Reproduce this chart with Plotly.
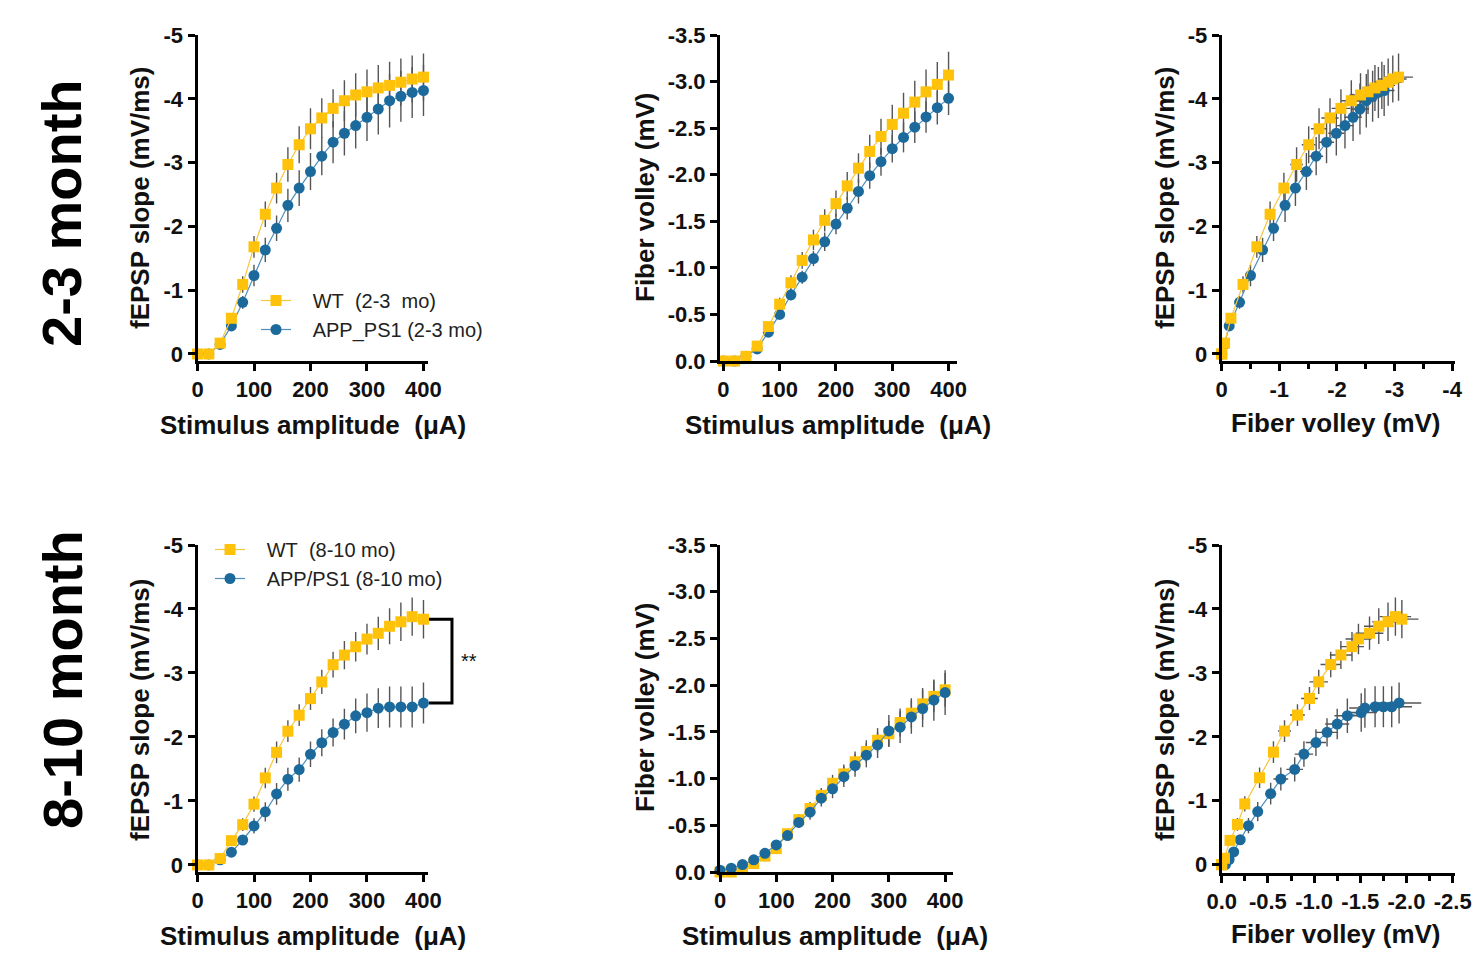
import plotly.graph_objects as go

W, H = 1482, 953

# ---------------- data ----------------
stim = [0, 20, 40, 60, 80, 100, 120, 140, 160, 180, 200, 220, 240, 260, 280, 300, 320, 340, 360, 380, 400]

# 2-3 month
wt23_slope = [0, 0, -0.17, -0.56, -1.09, -1.68, -2.19, -2.60, -2.97, -3.28, -3.53, -3.70, -3.85, -3.97, -4.06, -4.11, -4.17, -4.21, -4.26, -4.31, -4.34]
wt23_slope_err = [0, 0, 0.03, 0.08, 0.13, 0.17, 0.20, 0.24, 0.27, 0.29, 0.32, 0.31, 0.30, 0.32, 0.34, 0.35, 0.36, 0.37, 0.37, 0.37, 0.37]
app23_slope = [0, 0, -0.15, -0.44, -0.81, -1.23, -1.63, -1.97, -2.33, -2.60, -2.86, -3.10, -3.32, -3.46, -3.58, -3.71, -3.84, -3.97, -4.04, -4.10, -4.13]
app23_slope_err = [0, 0, 0.03, 0.07, 0.10, 0.17, 0.19, 0.20, 0.26, 0.28, 0.29, 0.30, 0.33, 0.35, 0.36, 0.37, 0.40, 0.42, 0.40, 0.40, 0.40]
wt23_fv = [0, 0, -0.05, -0.16, -0.37, -0.61, -0.84, -1.08, -1.30, -1.51, -1.69, -1.88, -2.07, -2.25, -2.41, -2.54, -2.66, -2.78, -2.89, -2.97, -3.07]
wt23_fv_err = [0, 0, 0.01, 0.03, 0.05, 0.07, 0.08, 0.09, 0.11, 0.12, 0.14, 0.15, 0.16, 0.18, 0.19, 0.21, 0.22, 0.23, 0.24, 0.24, 0.25]
app23_fv = [0, 0, -0.05, -0.13, -0.31, -0.50, -0.71, -0.90, -1.10, -1.28, -1.47, -1.64, -1.82, -1.99, -2.14, -2.28, -2.40, -2.51, -2.62, -2.72, -2.82]
app23_fv_err = [0, 0, 0.01, 0.02, 0.04, 0.05, 0.06, 0.07, 0.08, 0.10, 0.11, 0.12, 0.13, 0.14, 0.15, 0.15, 0.16, 0.17, 0.17, 0.18, 0.18]

# 8-10 month
wt810_slope = [0, 0, -0.10, -0.38, -0.63, -0.95, -1.36, -1.76, -2.09, -2.34, -2.60, -2.86, -3.13, -3.28, -3.41, -3.53, -3.62, -3.73, -3.80, -3.88, -3.84]
wt810_slope_err = [0, 0, 0.03, 0.06, 0.10, 0.12, 0.16, 0.17, 0.17, 0.17, 0.18, 0.19, 0.20, 0.22, 0.23, 0.24, 0.26, 0.28, 0.30, 0.30, 0.30]
app810_slope = [0, 0, -0.08, -0.20, -0.39, -0.61, -0.83, -1.11, -1.34, -1.49, -1.73, -1.91, -2.07, -2.20, -2.33, -2.38, -2.45, -2.47, -2.47, -2.47, -2.53]
app810_slope_err = [0, 0, 0.03, 0.05, 0.08, 0.12, 0.15, 0.17, 0.18, 0.19, 0.20, 0.21, 0.22, 0.24, 0.27, 0.30, 0.31, 0.32, 0.32, 0.32, 0.32]
wt810_fv = [0, 0, -0.03, -0.09, -0.17, -0.25, -0.41, -0.56, -0.68, -0.82, -0.95, -1.05, -1.18, -1.29, -1.41, -1.48, -1.60, -1.70, -1.80, -1.88, -1.95]
wt810_fv_err = [0, 0, 0.01, 0.02, 0.03, 0.04, 0.05, 0.06, 0.07, 0.08, 0.09, 0.10, 0.11, 0.12, 0.13, 0.14, 0.15, 0.16, 0.17, 0.17, 0.18]
app810_fv = [-0.02, -0.04, -0.08, -0.13, -0.20, -0.29, -0.39, -0.53, -0.64, -0.79, -0.89, -1.02, -1.14, -1.25, -1.36, -1.51, -1.55, -1.66, -1.75, -1.84, -1.92]
app810_fv_err = [0, 0, 0.01, 0.02, 0.03, 0.04, 0.05, 0.06, 0.08, 0.09, 0.10, 0.11, 0.12, 0.13, 0.14, 0.17, 0.17, 0.18, 0.20, 0.22, 0.24]

# tick labels
stim_ticks = [0, 100, 200, 300, 400]
slope_ticks = [0, -1, -2, -3, -4, -5]
slope_ticktext = ["0", "-1", "-2", "-3", "-4", "-5"]
fv_ticks = [0, -0.5, -1.0, -1.5, -2.0, -2.5, -3.0, -3.5]
fv_ticktext = ["0.0", "-0.5", "-1.0", "-1.5", "-2.0", "-2.5", "-3.0", "-3.5"]
fvx_top_ticks = [0, -1, -2, -3, -4]
fvx_top_ticktext = ["0", "-1", "-2", "-3", "-4"]
fvx_bot_ticks = [0, -0.5, -1.0, -1.5, -2.0, -2.5]
fvx_bot_ticktext = ["0.0", "-0.5", "-1.0", "-1.5", "-2.0", "-2.5"]

names = {
    "wt23": "\u00a0\u00a0\u00a0WT\u00a0\u00a0(2-3\u00a0\u00a0mo)",
    "app23": "\u00a0\u00a0\u00a0APP_PS1 (2-3 mo)",
    "wt810": "\u00a0\u00a0\u00a0WT\u00a0\u00a0(8-10 mo)",
    "app810": "\u00a0\u00a0\u00a0APP/PS1 (8-10 mo)",
}

# ---------------- style ----------------
YEL = "#FFC20A"
YEL_LINE = "#F6C63C"
BLU = "#1C6A9C"
BLU_LINE = "#4F8FBE"
ERR = "#555555"
FONT = "Liberation Sans, Arial, sans-serif"
TICKFONT = dict(family=FONT, size=22, color="#111111", weight="bold")
TITLEFONT = dict(family=FONT, size=26, color="#111111", weight="bold")


def fx(p):
    return p / W


def fy(p):
    return 1 - p / H


fig = go.Figure()


def add_series(x, y, xa, ya, color, lcolor, symbol, name, legend, showlegend):
    fig.add_trace(go.Scatter(
        x=x, y=y, xaxis=xa, yaxis=ya, mode="lines+markers", name=name,
        line=dict(color=lcolor, width=1.2),
        marker=dict(symbol=symbol, size=11, color=color, line=dict(width=0)),
        cliponaxis=False, showlegend=showlegend, legend=legend,
        legendgroup=name, hoverinfo="x+y",
    ))


def add_err(x, y, xerr, yerr, xa, ya):
    kw = {}
    if yerr is not None:
        kw["error_y"] = dict(type="data", array=yerr, color=ERR, thickness=1.4, width=0)
    if xerr is not None:
        kw["error_x"] = dict(type="data", array=xerr, color=ERR, thickness=1.4, width=0)
    fig.add_trace(go.Scatter(
        x=x, y=y, xaxis=xa, yaxis=ya, mode="markers",
        marker=dict(size=2, opacity=0), showlegend=False, hoverinfo="skip",
        cliponaxis=False, **kw,
    ))


# Panel 1: fEPSP vs stimulus (2-3)
add_err(stim, app23_slope, None, app23_slope_err, "x", "y")
add_err(stim, wt23_slope, None, wt23_slope_err, "x", "y")
add_series(stim, app23_slope, "x", "y", BLU, BLU_LINE, "circle", names["app23"], "legend", True)
add_series(stim, wt23_slope, "x", "y", YEL, YEL_LINE, "square", names["wt23"], "legend", True)

# Panel 2: FV vs stimulus (2-3)
add_err(stim, app23_fv, None, app23_fv_err, "x2", "y2")
add_err(stim, wt23_fv, None, wt23_fv_err, "x2", "y2")
add_series(stim, app23_fv, "x2", "y2", BLU, BLU_LINE, "circle", names["app23"], "legend", False)
add_series(stim, wt23_fv, "x2", "y2", YEL, YEL_LINE, "square", names["wt23"], "legend", False)

# Panel 3: fEPSP vs FV (2-3)
add_err(app23_fv, app23_slope, app23_fv_err, app23_slope_err, "x3", "y3")
add_err(wt23_fv, wt23_slope, wt23_fv_err, wt23_slope_err, "x3", "y3")
add_series(app23_fv, app23_slope, "x3", "y3", BLU, BLU_LINE, "circle", names["app23"], "legend", False)
add_series(wt23_fv, wt23_slope, "x3", "y3", YEL, YEL_LINE, "square", names["wt23"], "legend", False)

# Panel 4: fEPSP vs stimulus (8-10)
add_err(stim, app810_slope, None, app810_slope_err, "x4", "y4")
add_err(stim, wt810_slope, None, wt810_slope_err, "x4", "y4")
add_series(stim, app810_slope, "x4", "y4", BLU, BLU_LINE, "circle", names["app810"], "legend2", True)
add_series(stim, wt810_slope, "x4", "y4", YEL, YEL_LINE, "square", names["wt810"], "legend2", True)

# Panel 5: FV vs stimulus (8-10) - APP drawn on top
add_err(stim, wt810_fv, None, wt810_fv_err, "x5", "y5")
add_err(stim, app810_fv, None, app810_fv_err, "x5", "y5")
add_series(stim, wt810_fv, "x5", "y5", YEL, YEL_LINE, "square", names["wt810"], "legend2", False)
add_series(stim, app810_fv, "x5", "y5", BLU, BLU_LINE, "circle", names["app810"], "legend2", False)

# Panel 6: fEPSP vs FV (8-10)
add_err(app810_fv, app810_slope, app810_fv_err, app810_slope_err, "x6", "y6")
add_err(wt810_fv, wt810_slope, wt810_fv_err, wt810_slope_err, "x6", "y6")
add_series(app810_fv, app810_slope, "x6", "y6", BLU, BLU_LINE, "circle", names["app810"], "legend2", False)
add_series(wt810_fv, wt810_slope, "x6", "y6", YEL, YEL_LINE, "square", names["wt810"], "legend2", False)

# significance bracket on a helper axis sharing panel 4's y scale
bx0, bx1 = 411.6, 452.4
fig.add_trace(go.Scatter(
    x=[bx0, bx1, bx1, bx0],
    y=[wt810_slope[-1], wt810_slope[-1], app810_slope[-1], app810_slope[-1]],
    xaxis="x7", yaxis="y4", mode="lines", line=dict(color="black", width=3),
    showlegend=False, hoverinfo="skip",
))


def axis(domain, rng, tickvals, ticktext, anchor, minor=None):
    d = dict(
        domain=domain, range=rng, anchor=anchor, tickmode="array",
        tickvals=tickvals, ticktext=ticktext, automargin=False,
        showline=True, linecolor="black", linewidth=3,
        ticks="outside", ticklen=7, tickwidth=3, tickcolor="black",
        showgrid=False, zeroline=False, tickfont=TICKFONT, fixedrange=True,
    )
    if minor is not None:
        d["minor"] = dict(tickvals=minor, ticks="outside", ticklen=5, tickwidth=3, tickcolor="black", showgrid=False)
    return d


top_y = [fy(361), fy(35)]
bot_y = [fy(872), fy(545)]

stim_text = [str(v) for v in stim_ticks]

LEGFONT = dict(family=FONT, size=20, color="#222222")

layout = dict(
    template="none",
    width=W, height=H, margin=dict(l=0, r=0, t=0, b=0, pad=0, autoexpand=False),
    paper_bgcolor="white", plot_bgcolor="rgba(0,0,0,0)",
    font=dict(family=FONT, color="#111111"),
    xaxis=axis([fx(197.5), fx(428)], [0, 408], stim_ticks, stim_text, "y"),
    yaxis=axis(top_y, [0.11, -5], slope_ticks, slope_ticktext, "x"),
    xaxis2=axis([fx(720), fx(957)], [-6, 415], stim_ticks, stim_text, "y2"),
    yaxis2=axis(top_y, [0, -3.5], fv_ticks, fv_ticktext, "x2"),
    xaxis3=axis([fx(1221.7), fx(1455)], [0, -4.05], fvx_top_ticks, fvx_top_ticktext, "y3",
                minor=[-0.5, -1.5, -2.5, -3.5]),
    yaxis3=axis(top_y, [0.11, -5], slope_ticks, slope_ticktext, "x3"),
    xaxis4=axis([fx(197.5), fx(428)], [0, 408], stim_ticks, stim_text, "y4"),
    yaxis4=axis(bot_y, [0.11, -5], slope_ticks, slope_ticktext, "x4"),
    xaxis5=axis([fx(720), fx(953)], [0, 414], stim_ticks, stim_text, "y5"),
    yaxis5=axis(bot_y, [0, -3.5], fv_ticks, fv_ticktext, "x5"),
    xaxis6=axis([fx(1221.7), fx(1455)], [0, -2.525], fvx_bot_ticks, fvx_bot_ticktext, "y6",
                minor=[-0.25, -0.75, -1.25, -1.75, -2.25]),
    yaxis6=axis([fy(873), fy(545)], [0.13, -5], slope_ticks, slope_ticktext, "x6"),
    xaxis7=dict(domain=[fx(197.5), fx(500)], range=[0, (500 - 197.5) / 0.5625], anchor="y4",
                visible=False, fixedrange=True, automargin=False),
    legend=dict(x=fx(256), y=fy(281), xanchor="left", yanchor="top",
                bgcolor="rgba(0,0,0,0)", font=LEGFONT, borderwidth=0,
                traceorder="reversed", tracegroupgap=9, itemwidth=30),
    legend2=dict(x=fx(210), y=fy(530), xanchor="left", yanchor="top",
                 bgcolor="rgba(0,0,0,0)", font=LEGFONT, borderwidth=0,
                 traceorder="reversed", tracegroupgap=9, itemwidth=30),
)
fig.update_layout(**layout)

ann = []


def txt(text, x, y, angle=0, font=TITLEFONT):
    ann.append(dict(text=text, x=fx(x), y=fy(y), xref="paper", yref="paper",
                    showarrow=False, textangle=angle, font=font,
                    xanchor="center", yanchor="middle"))


ROWFONT = dict(family=FONT, size=56, color="#000000", weight="bold")
txt("2-3 month", 62, 213, -90, ROWFONT)
txt("8-10 month", 62, 680, -90, ROWFONT)

amp = "Stimulus amplitude\u00a0\u00a0(\u03bcA)"
txt("fEPSP slope (mV/ms)", 140, 198, -90)
txt(amp, 313, 425)
txt("Fiber volley (mV)", 645, 197, -90)
txt(amp, 838, 425)
txt("fEPSP slope (mV/ms)", 1165, 198, -90)
txt("Fiber volley (mV)", 1336, 423)
txt("fEPSP slope (mV/ms)", 140, 710, -90)
txt(amp, 313, 936)
txt("Fiber volley (mV)", 645, 707, -90)
txt(amp, 835, 936)
txt("fEPSP slope (mV/ms)", 1165, 710, -90)
txt("Fiber volley (mV)", 1336, 934)

ann.append(dict(text="**", x=483, y=(wt810_slope[-1] + app810_slope[-1]) / 2,
                xref="x7", yref="y4", showarrow=False,
                font=dict(family=FONT, size=20, color="#111111"),
                xanchor="center", yanchor="middle"))

fig.update_layout(annotations=ann)
fig.write_html("out.html", config={"displayModeBar": False},
               post_script="document.body.style.margin='0px';document.body.style.overflow='hidden';")
